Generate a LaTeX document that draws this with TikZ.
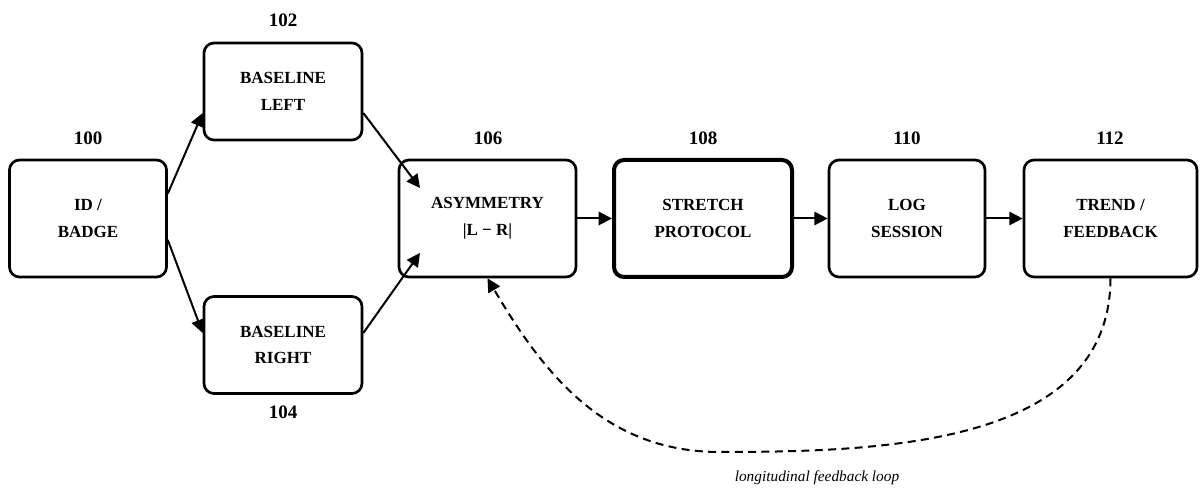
\documentclass[tikz,border=0pt]{standalone}
\usepackage{fontspec}
\setmainfont{Liberation Serif}
\usetikzlibrary{arrows.meta,calc}
\begin{document}
\begin{tikzpicture}[x=0.75pt,y=-0.75pt,
  box/.style={draw,line width=2pt,rounded corners=7.5pt,align=center,inner sep=0pt,
    minimum height=87.75pt,font=\bfseries\fontsize{12.75}{20}\selectfont},
  boxthick/.style={box,line width=3pt},
  num/.style={font=\bfseries\fontsize{14.25}{16}\selectfont,inner sep=0pt},
  arr/.style={line width=1.5pt,-{Triangle[length=10pt,width=10pt]}},
  loop/.style={line width=1.5pt,dash pattern=on 6pt off 4pt,-{Triangle[length=10pt,width=10pt]}},
  note/.style={font=\itshape\fontsize{11.5}{13}\selectfont,inner sep=0pt}]
\useasboundingbox (0,0) rectangle (1200,491);

\node[box,minimum width=117.75pt] (n100) at (88,218.5) {ID /\\BADGE};
\node[box,minimum width=118.5pt,minimum height=72.75pt] (n102) at (283,91.5) {BASELINE\\LEFT};
\node[box,minimum width=118.5pt,minimum height=72.75pt] (n104) at (283,345) {BASELINE\\RIGHT};
\node[box,minimum width=132.75pt] (n106) at (487.5,218.5) {ASYMMETRY\\|L − R|};
\node[boxthick,minimum width=133.5pt] (n108) at (703,218.5) {STRETCH\\PROTOCOL};
\node[box,minimum width=117pt] (n110) at (907,218.5) {LOG\\SESSION};
\node[box,minimum width=129.75pt] (n112) at (1110.5,218.5) {TREND /\\FEEDBACK};

\node[num] (l100) at (88,138) {100};
\node[num] (l102) at (283,20) {102};
\node[num] (l104) at (283,412) {104};
\node[num] (l106) at (488,138) {106};
\node[num] (l108) at (703,138) {108};
\node[num] (l110) at (907,138) {110};
\node[num] (l112) at (1110,138) {112};

\draw[arr] ($(n100.east)+(0,-25)$) -- ($(n102.west)+(0,21.5)$);
\draw[arr] ($(n100.east)+(0,21.5)$) -- ($(n104.west)+(0,-12)$);
\draw[arr] ($(n102.east)+(0,21.5)$) -- ($(n106.center)+(-67.5,-30.5)$);
\draw[arr] ($(n104.east)+(0,-12)$) -- ($(n106.center)+(-67.5,34.5)$);
\draw[arr] (n106.east) -- (n108.west);
\draw[arr] (n108.east) -- (n110.west);
\draw[arr] (n110.east) -- (n112.west);

\coordinate (loopmid) at (720,452);
\draw[loop] (n112.south) .. controls (1110,444) and (887,452) .. (loopmid)
  .. controls (606,452) and (545,376) .. (n106.south);

\node[note] (lnote) at (817,478) {longitudinal feedback loop};
\end{tikzpicture}
\end{document}
